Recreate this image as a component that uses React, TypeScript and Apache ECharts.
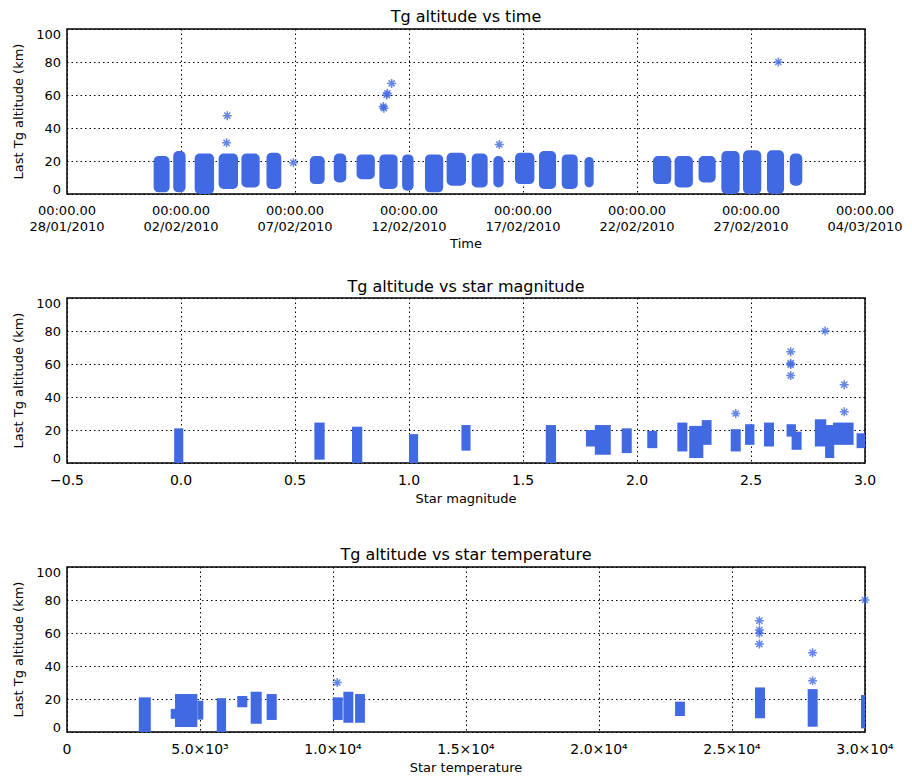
import React, { useEffect, useRef } from "react";
import * as echarts from "echarts";

// ---------- data ----------
// Time panel: day offset from 28/01/2010 00:00
const timeTickLabels = ["28/01/2010", "02/02/2010", "07/02/2010", "12/02/2010", "17/02/2010", "22/02/2010", "27/02/2010", "04/03/2010"];
// [startDay, endDay, lowAlt, highAlt] – dense groups of points
const timeClusters = [
  [3.8, 4.5, 1, 23],
  [4.66, 5.2, 1, 26],
  [5.6, 6.45, 0, 24.5],
  [6.65, 7.5, 3, 24.5],
  [7.65, 8.45, 4, 24.5],
  [8.75, 9.4, 3, 25],
  [10.65, 11.3, 6, 23],
  [11.7, 12.25, 7, 24.5],
  [12.7, 13.5, 9, 24],
  [13.7, 14.5, 3, 24],
  [14.7, 15.2, 2, 24],
  [15.7, 16.5, 1, 24],
  [16.65, 17.5, 5, 25],
  [17.75, 18.45, 4, 24.5],
  [18.7, 19.15, 4, 23],
  [19.65, 20.5, 6, 25],
  [20.7, 21.45, 3, 26],
  [21.7, 22.4, 3, 24],
  [22.7, 23.1, 4, 22.5],
  [25.7, 26.5, 6, 23],
  [26.65, 27.45, 4, 23],
  [27.7, 28.45, 7, 23],
  [28.7, 29.5, 0, 26],
  [29.65, 30.45, 0, 26.5],
  [30.7, 31.45, 0, 26.5],
  [31.7, 32.25, 5, 24.5],
];
// [day, alt] isolated points
const timePoints = [
  [7.03, 47.5], [7.0, 31], [9.93, 19], [13.87, 53], [13.9, 52],
  [14.02, 60], [14.05, 61], [14.24, 67], [18.96, 30], [31.2, 80],
];

// Magnitude panel
const magTickLabels = ["\u22120.5", "0.0", "0.5", "1.0", "1.5", "2.0", "2.5", "3.0"];
const magClusters = [
  [-0.03, 0.01, 0, 21],
  [0.585, 0.63, 2, 24.5],
  [0.75, 0.795, 0, 22],
  [1.0, 1.04, 0, 17.5],
  [1.23, 1.27, 7.5, 23],
  [1.6, 1.645, 0, 23],
  [1.776, 1.82, 10, 20],
  [1.815, 1.885, 5, 23],
  [1.933, 1.977, 6, 21],
  [2.045, 2.089, 9, 19.5],
  [2.177, 2.221, 7, 24.5],
  [2.229, 2.291, 3, 22.5],
  [2.284, 2.327, 11, 26],
  [2.411, 2.455, 7, 20.5],
  [2.474, 2.515, 11, 23.5],
  [2.557, 2.601, 10, 24.5],
  [2.656, 2.697, 16, 23.5],
  [2.678, 2.722, 8, 19],
  [2.78, 2.83, 10, 26.5],
  [2.825, 2.865, 3, 23],
  [2.86, 2.95, 11, 24.5],
  [2.963, 3.0, 9, 18],
];
const magPoints = [
  [2.433, 30], [2.674, 67.5], [2.674, 60.5], [2.674, 59.5], [2.674, 53],
  [2.825, 80], [2.909, 47.5], [2.909, 31],
];

// Temperature panel
const tempTickLabels = ["0", "5.0\u00d710\u00b3", "1.0\u00d710\u2074", "1.5\u00d710\u2074", "2.0\u00d710\u2074", "2.5\u00d710\u2074", "3.0\u00d710\u2074"];
const tempClusters = [
  [2700, 3150, 0, 21],
  [3900, 4060, 8, 14],
  [4060, 4900, 3, 23],
  [4900, 5125, 7.5, 19],
  [5630, 5980, 0, 20.5],
  [6400, 6780, 15, 21.8],
  [6905, 7320, 5, 24.4],
  [7505, 7885, 7.3, 23],
  [9990, 10365, 7.3, 21],
  [10390, 10765, 5.6, 24.4],
  [10830, 11200, 5.6, 23],
  [22860, 23230, 9.7, 18.4],
  [25865, 26240, 8.3, 27],
  [27845, 28220, 3.2, 26],
  [29850, 30000, 2.2, 22.4],
];
const tempPoints = [
  [10160, 30], [26030, 67.5], [26030, 61.8], [26030, 59.8], [26030, 53.3],
  [28030, 48], [28030, 31], [30000, 80],
];

const titles = ["Tg altitude vs time", "Tg altitude vs star magnitude", "Tg altitude vs star temperature"];
const xNames = ["Time", "Star magnitude", "Star temperature"];
const yName = "Last Tg altitude (km)";

// ---------- styling ----------
const BLUE = "#4169E1";
const FONT = "DejaVu Sans";
const ASTERISK = "path://M5 0V10M0 5H10M1.6 1.6L8.4 8.4M1.6 8.4L8.4 1.6";
const GRID_TOPS = [29, 298, 567];
const GRID_H = 165;

function clusterRender(radius: number) {
  return (params: any, api: any) => {
    const p0 = api.coord([api.value(0), api.value(3)]);
    const p1 = api.coord([api.value(1), api.value(2)]);
    return {
      type: "rect",
      shape: { x: p0[0], y: p0[1], width: Math.max(1, p1[0] - p0[0]), height: p1[1] - p0[1], r: radius },
      style: { fill: BLUE },
    };
  };
}

export default function App() {
  const ref = useRef<HTMLDivElement>(null);
  useEffect(() => {
    if (!ref.current) return;
    const chart = echarts.init(ref.current, null, { renderer: "svg" });

    const yAxisBase = (i: number) => ({
      type: "value",
      gridIndex: i,
      min: 0,
      max: 100,
      interval: 20,
      name: yName,
      nameLocation: "middle",
      nameGap: 42,
      nameTextStyle: { fontFamily: FONT, fontSize: 13, color: "#000" },
      axisLine: { show: false },
      axisTick: { show: false },
      axisLabel: {
        margin: 6,
        fontFamily: FONT,
        fontSize: 13,
        color: "#000",
        formatter: (v: number) => (v === 0 ? "{lo|0}" : v === 100 ? "{hi|100}" : String(v)),
        rich: {
          lo: { fontFamily: FONT, fontSize: 13, color: "#000", padding: [0, 0, 10, 0] },
          hi: { fontFamily: FONT, fontSize: 13, color: "#000", padding: [10, 0, 0, 0] },
        },
      },
      splitLine: { show: true, lineStyle: { color: "#000", type: [1.5, 3], width: 1 } },
    });

    const xAxisBase = (
      i: number, min: number, max: number, interval: number, labels: string[],
      nameGap: number, fontSize: number, margin: number, lineHeight?: number
    ) => ({
      type: "value",
      gridIndex: i,
      min,
      max,
      interval,
      name: xNames[i],
      nameLocation: "middle",
      nameGap,
      nameTextStyle: { fontFamily: FONT, fontSize: 13, color: "#000" },
      axisLine: { show: false },
      axisTick: { show: false },
      axisLabel: {
        margin,
        fontFamily: FONT,
        fontSize,
        color: "#000",
        lineHeight,
        showMinLabel: true,
        showMaxLabel: true,
        formatter: (v: number) => labels[Math.round((v - min) / interval)] ?? "",
      },
      splitLine: { show: true, lineStyle: { color: "#000", type: [1.5, 3], width: 1 } },
    });

    const timeLabels = timeTickLabels.map((d) => "00:00.00\n" + d);

    const option: any = {
      animation: false,
      backgroundColor: "#fff",
      title: titles.map((t, i) => ({
        text: t,
        left: 466,
        top: [8, 278, 546][i],
        textAlign: "center",
        padding: 0,
        textStyle: { fontFamily: FONT, fontSize: 16, fontWeight: "normal", color: "#000" },
      })),
      grid: GRID_TOPS.map((top) => ({
        left: 67,
        width: 798,
        top,
        height: GRID_H,
        show: true,
        borderColor: "#000",
        borderWidth: 1.5,
        backgroundColor: "transparent",
      })),
      xAxis: [
        xAxisBase(0, 0, 35, 5, timeLabels, 43, 13, 8, 16),
        xAxisBase(1, -0.5, 3.0, 0.5, magTickLabels, 29, 14, 10),
        xAxisBase(2, 0, 30000, 5000, tempTickLabels, 29, 14, 10),
      ],
      yAxis: [yAxisBase(0), yAxisBase(1), yAxisBase(2)],
      series: [
        { type: "custom", xAxisIndex: 0, yAxisIndex: 0, clip: true, renderItem: clusterRender(5), encode: { x: [0, 1], y: [2, 3] }, data: timeClusters },
        { type: "scatter", xAxisIndex: 0, yAxisIndex: 0, symbol: ASTERISK, symbolSize: 9, itemStyle: { color: BLUE, borderColor: BLUE, borderWidth: 1.5 }, data: timePoints },
        { type: "custom", xAxisIndex: 1, yAxisIndex: 1, clip: true, renderItem: clusterRender(0), encode: { x: [0, 1], y: [2, 3] }, data: magClusters },
        { type: "scatter", xAxisIndex: 1, yAxisIndex: 1, symbol: ASTERISK, symbolSize: 9, itemStyle: { color: BLUE, borderColor: BLUE, borderWidth: 1.5 }, data: magPoints },
        { type: "custom", xAxisIndex: 2, yAxisIndex: 2, clip: true, renderItem: clusterRender(0), encode: { x: [0, 1], y: [2, 3] }, data: tempClusters },
        { type: "scatter", xAxisIndex: 2, yAxisIndex: 2, symbol: ASTERISK, symbolSize: 9, itemStyle: { color: BLUE, borderColor: BLUE, borderWidth: 1.5 }, data: tempPoints },
      ],
    };
    chart.setOption(option);
    return () => chart.dispose();
  }, []);

  return (
    <div
      ref={ref}
      style={{ position: "fixed", left: 0, top: 0, width: 912, height: 778, background: "#fff" }}
    />
  );
}
